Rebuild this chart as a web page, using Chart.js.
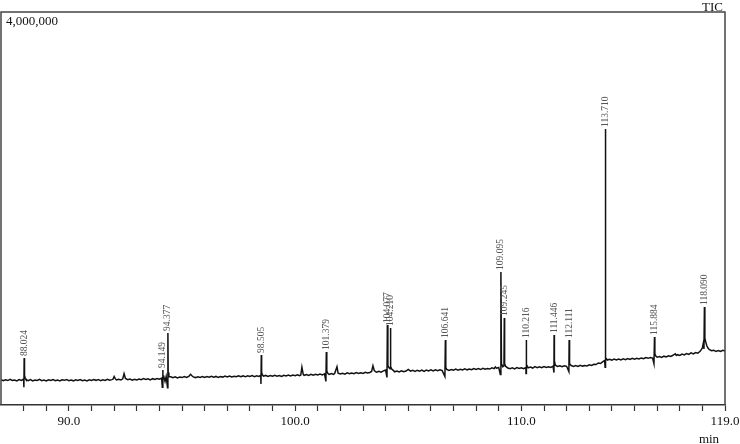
<!DOCTYPE html>
<html>
<head>
<meta charset="utf-8">
<title>TIC</title>
<script src="https://cdn.jsdelivr.net/npm/chart.js@4.4.1/dist/chart.umd.min.js"></script>
<style>
  html, body { margin: 0; padding: 0; background: #fff; }
  #tic { display: block; }
</style>
</head>
<body>
<canvas id="tic" width="740" height="444"></canvas>
<script>
// signal in thousands of counts, time in minutes
const tracePoints = [
  [87.0,258],[87.1,247],[87.2,256],[87.3,249],[87.4,262],[87.5,250],[87.6,255],[87.7,246],[87.8,259],[87.9,251],
  [87.95,257],[88.0,264],[88.012,180],[88.024,478],[88.04,300],[88.07,272],[88.1,260],[88.2,248],[88.3,258],[88.4,246],
  [88.5,255],[88.6,250],[88.7,261],[88.8,248],[88.9,254],[89.0,245],[89.1,257],[89.2,250],[89.3,259],[89.4,247],
  [89.5,255],[89.6,244],[89.7,256],[89.8,251],[89.9,260],[90.0,248],[90.1,254],[90.2,246],[90.3,257],[90.4,250],
  [90.5,259],[90.6,247],[90.7,253],[90.8,245],[90.9,256],[91.0,249],[91.1,258],[91.2,251],[91.3,260],[91.4,248],
  [91.5,256],[91.6,250],[91.7,262],[91.8,252],[91.9,258],[91.95,262],[92.0,290],[92.05,268],[92.1,255],[92.2,262],
  [92.3,254],[92.38,266],[92.44,320],[92.5,270],[92.6,258],[92.7,264],[92.8,253],[92.9,261],[93.0,255],[93.1,265],
  [93.2,257],[93.3,268],[93.4,259],[93.5,266],[93.6,256],[93.7,268],[93.8,260],[93.9,270],[94.0,262],[94.1,274],
  [94.13,180],[94.149,356],[94.16,260],[94.2,285],[94.25,240],[94.3,290],[94.36,175],[94.377,733],[94.39,330],[94.42,290],
  [94.5,288],[94.6,278],[94.7,287],[94.8,276],[94.9,284],[95.0,279],[95.1,289],[95.2,280],[95.3,292],[95.38,312],
  [95.45,295],[95.5,286],[95.6,279],[95.7,288],[95.8,281],[95.9,290],[96.0,280],[96.1,289],[96.2,282],[96.3,292],
  [96.4,284],[96.5,291],[96.6,281],[96.7,290],[96.8,284],[96.9,294],[97.0,286],[97.1,295],[97.2,285],[97.3,293],
  [97.4,287],[97.5,297],[97.6,288],[97.7,296],[97.8,287],[97.9,298],[98.0,290],[98.1,299],[98.2,289],[98.3,297],
  [98.4,291],[98.48,302],[98.49,215],[98.505,509],[98.52,330],[98.56,305],[98.6,294],[98.7,301],[98.8,290],[98.9,299],
  [99.0,292],[99.1,302],[99.2,294],[99.3,300],[99.4,291],[99.5,303],[99.6,295],[99.7,305],[99.8,296],[99.9,304],
  [100.0,298],[100.1,307],[100.2,299],[100.25,305],[100.3,385],[100.36,310],[100.4,302],[100.5,310],[100.6,301],[100.7,312],
  [100.8,304],[100.9,313],[101.0,306],[101.1,315],[101.2,307],[101.3,318],[101.36,240],[101.379,540],[101.4,345],[101.45,320],
  [101.5,312],[101.6,320],[101.7,311],[101.75,322],[101.85,390],[101.9,324],[102.0,315],[102.1,322],[102.2,314],[102.3,327],
  [102.4,318],[102.5,326],[102.6,319],[102.7,330],[102.8,321],[102.9,329],[103.0,322],[103.1,333],[103.2,325],[103.3,331],
  [103.38,342],[103.44,400],[103.5,350],[103.55,340],[103.6,334],[103.7,343],[103.8,335],[103.9,347],[104.0,356],[104.06,280],
  [104.077,814],[104.1,400],[104.15,380],[104.2,370],[104.21,784],[104.23,390],[104.27,365],[104.35,350],[104.4,338],[104.5,346],
  [104.6,336],[104.7,348],[104.8,338],[104.9,346],[105.0,362],[105.1,344],[105.2,352],[105.3,341],[105.4,354],[105.5,345],
  [105.6,356],[105.7,343],[105.8,355],[105.9,347],[106.0,357],[106.1,346],[106.2,358],[106.3,350],[106.4,359],[106.5,350],
  [106.62,290],[106.641,662],[106.66,380],[106.7,362],[106.8,352],[106.9,361],[107.0,354],[107.1,365],[107.2,355],[107.3,363],
  [107.4,356],[107.5,368],[107.6,358],[107.7,366],[107.8,359],[107.9,371],[108.0,362],[108.1,370],[108.2,361],[108.3,374],
  [108.4,364],[108.5,372],[108.6,366],[108.7,378],[108.8,370],[108.85,388],[108.9,375],[109.0,382],[109.07,310],[109.095,1354],
  [109.12,420],[109.18,390],[109.23,400],[109.245,886],[109.26,420],[109.3,395],[109.4,376],[109.5,370],[109.6,378],[109.7,368],
  [109.8,380],[109.9,371],[110.0,378],[110.1,370],[110.2,382],[110.205,320],[110.216,662],[110.23,410],[110.28,388],[110.3,378],
  [110.4,386],[110.5,376],[110.6,390],[110.7,380],[110.8,388],[110.9,379],[111.0,392],[111.1,382],[111.2,390],[111.3,383],
  [111.4,395],[111.44,330],[111.446,713],[111.46,450],[111.5,405],[111.6,392],[111.7,400],[111.8,389],[111.9,399],[112.0,394],
  [112.1,340],[112.111,662],[112.13,420],[112.2,402],[112.3,393],[112.4,401],[112.5,392],[112.6,404],[112.7,396],[112.8,402],
  [112.9,398],[113.0,410],[113.1,403],[113.2,415],[113.3,412],[113.4,428],[113.5,422],[113.6,442],[113.68,452],[113.7,385],
  [113.71,2810],[113.73,480],[113.76,470],[113.8,458],[113.9,466],[114.0,456],[114.1,467],[114.2,459],[114.3,468],[114.4,458],
  [114.5,470],[114.6,462],[114.7,473],[114.8,463],[114.9,475],[115.0,467],[115.1,476],[115.2,468],[115.3,479],[115.4,471],
  [115.5,482],[115.6,475],[115.7,484],[115.8,478],[115.86,420],[115.884,692],[115.9,520],[115.95,495],[116.0,486],[116.1,494],
  [116.2,485],[116.3,497],[116.4,489],[116.5,501],[116.6,494],[116.7,506],[116.8,522],[116.85,505],[116.9,512],[117.0,504],
  [117.1,518],[117.2,510],[117.3,523],[117.4,515],[117.5,530],[117.6,520],[117.7,534],[117.8,528],[117.9,546],[118.0,580],
  [118.05,640],[118.07,570],[118.09,998],[118.11,680],[118.15,640],[118.2,600],[118.25,580],[118.3,565],[118.4,552],[118.5,558],
  [118.6,546],[118.7,554],[118.8,545],[118.9,556],[119.0,550]
];

const peakTimes = [88.024, 94.149, 94.377, 98.505, 101.379, 104.077, 104.210, 106.641,
  109.095, 109.245, 110.216, 111.446, 112.111, 113.710, 115.884, 118.090];
const peakTops = [478, 356, 733, 509, 540, 814, 784, 662,
  1354, 886, 662, 713, 662, 2810, 692, 998];

const axisMinutes = [88, 89, 90, 91, 92, 93, 94, 95, 96, 97, 98, 99, 100, 101, 102, 103,
  104, 105, 106, 107, 108, 109, 110, 111, 112, 113, 114, 115, 116, 117, 118, 119];
const labeledMinutes = [90, 100, 110, 119];

const serif = "'Liberation Serif', 'DejaVu Serif', serif";

const framePlugin = {
  id: "frame",
  afterDraw(chart) {
    const c = chart.ctx;
    const a = chart.chartArea;
    c.save();
    c.strokeStyle = "#444";
    c.lineWidth = 1.5;
    c.beginPath();
    c.moveTo(a.left, a.bottom);
    c.lineTo(a.left, a.top);
    c.lineTo(a.right, a.top);
    c.lineTo(a.right, a.bottom);
    c.stroke();

    c.fillStyle = "#111";
    c.font = "13px " + serif;
    c.textBaseline = "alphabetic";
    c.textAlign = "left";
    c.fillText("4,000,000", a.left + 5, a.top + 13);
    c.textAlign = "right";
    c.fillText("TIC", 723, 11);
    c.textAlign = "center";
    c.fillText("min", 709, 443);
    c.restore();
  }
};

const peakLabelPlugin = {
  id: "peakLabels",
  afterDatasetsDraw(chart) {
    const c = chart.ctx;
    const xs = chart.scales.x;
    const ys = chart.scales.y;
    c.save();
    c.fillStyle = "#555";
    c.font = "9.5px " + serif;
    c.textAlign = "left";
    c.textBaseline = "middle";
    for (let i = 0; i < peakTimes.length; i++) {
      const px = xs.getPixelForValue(peakTimes[i]);
      const py = ys.getPixelForValue(peakTops[i]);
      c.save();
      c.translate(px, py);
      c.rotate(-Math.PI / 2);
      c.fillText(peakTimes[i].toFixed(3), 2, 0);
      c.restore();
    }
    c.restore();
  }
};

new Chart(document.getElementById("tic"), {
  type: "line",
  data: {
    datasets: [{
      label: "TIC",
      data: tracePoints.map(p => ({ x: p[0], y: p[1] })),
      borderColor: "#111",
      borderWidth: 1.5,
      pointRadius: 0,
      tension: 0,
      fill: false
    }]
  },
  options: {
    responsive: false,
    animation: false,
    devicePixelRatio: 1,
    layout: { padding: { left: 1, right: 15, top: 12, bottom: 0 } },
    plugins: {
      legend: { display: false },
      tooltip: { enabled: false }
    },
    scales: {
      x: {
        type: "linear",
        min: 87,
        max: 119,
        afterBuildTicks(scale) {
          scale.ticks = axisMinutes.map(v => ({ value: v }));
        },
        afterFit(scale) {
          scale.height = 39;
          scale.paddingLeft = 0;
          scale.paddingRight = 0;
        },
        ticks: {
          autoSkip: false,
          maxRotation: 0,
          padding: 3,
          color: "#111",
          font: { family: serif, size: 13 },
          callback: v => labeledMinutes.includes(v) ? v.toFixed(1) : ""
        },
        grid: {
          drawOnChartArea: false,
          drawTicks: true,
          tickLength: 6,
          tickColor: "#333",
          tickWidth: 1.2
        },
        border: { display: true, color: "#333", width: 1.5 }
      },
      y: {
        display: false,
        min: 0,
        max: 4000
      }
    }
  },
  plugins: [framePlugin, peakLabelPlugin]
});
</script>
</body>
</html>
